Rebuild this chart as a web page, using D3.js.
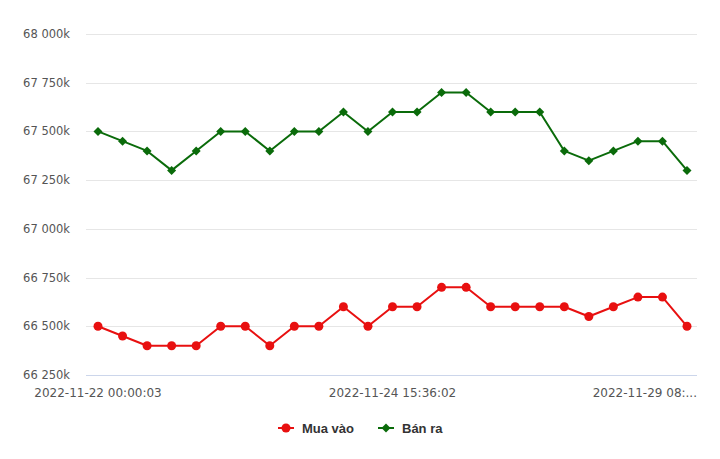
<!DOCTYPE html>
<html><head><meta charset="utf-8">
<script src="https://cdn.jsdelivr.net/npm/d3@7"></script>
<style>body{margin:0;background:#fff}svg{display:block}</style>
</head><body><svg id="c" width="720" height="459"></svg>
<script>
const buyValues = [66500,66450,66400,66400,66400,66500,66500,66400,66500,66500,66600,66500,66600,66600,66700,66700,66600,66600,66600,66600,66550,66600,66650,66650,66500];
const sellValues = [67500,67450,67400,67300,67400,67500,67500,67400,67500,67500,67600,67500,67600,67600,67700,67700,67600,67600,67600,67400,67350,67400,67450,67450,67300];
const tickIndices = [0,12,24];
const tickLabels = ["2022-11-22 00:00:03","2022-11-24 15:36:02","2022-11-29 08:..."];
const yTicks = [66250,66500,66750,67000,67250,67500,67750,68000];
const seriesNames = ["Mua vào","Bán ra"];
const colors = ["#e81010","#0a6b0a"];

const svg = d3.select("#c");
const font = "'DejaVu Sans', Verdana, sans-serif";
const x = d3.scaleLinear().domain([0,24]).range([98,687]);
const y = d3.scaleLinear().domain([66250,68000]).range([375,34]);

// grid
svg.append("g").selectAll("line").data(yTicks.slice(1)).join("line")
  .attr("x1",86).attr("x2",697).attr("y1",d=>Math.round(y(d))+0.5).attr("y2",d=>Math.round(y(d))+0.5)
  .attr("stroke","#e6e6e6").attr("stroke-width",1);
svg.append("line").attr("x1",86).attr("x2",697).attr("y1",Math.round(y(66250))+0.5).attr("y2",Math.round(y(66250))+0.5)
  .attr("stroke","#ccd6eb");

// y labels
const fmt = v => v.toString().replace(/\B(?=(\d{3})+(?!\d))/g," ") + "k";
svg.append("g").selectAll("text").data(yTicks).join("text")
  .attr("x",70).attr("y",d=>y(d)+4).attr("text-anchor","end")
  .attr("font-family",font).attr("font-size","11.5px").attr("fill","#555")
  .text(d=>fmt(d));

// x labels
svg.append("g").selectAll("text").data(tickIndices).join("text")
  .attr("x",(d,i)=> i===2 ? 697 : x(d)).attr("y",397)
  .attr("text-anchor",(d,i)=> i===2 ? "end" : "middle")
  .attr("font-family",font).attr("font-size","12px").attr("fill","#555")
  .text((d,i)=>tickLabels[i]);

const line = d3.line().x((d,i)=>x(i)).y(d=>y(d));
function diamondPath(cx,cy,r){return `M${cx},${cy-r}L${cx+r},${cy}L${cx},${cy+r}L${cx-r},${cy}Z`;}

[buyValues, sellValues].forEach((vals,si)=>{
  svg.append("path").datum(vals).attr("d",line).attr("fill","none")
    .attr("stroke",colors[si]).attr("stroke-width",2).attr("stroke-linejoin","round");
  const g = svg.append("g");
  if(si===0){
    g.selectAll("circle").data(vals).join("circle").attr("cx",(d,i)=>x(i)).attr("cy",d=>y(d)).attr("r",4.5).attr("fill",colors[0]);
  } else {
    g.selectAll("path").data(vals).join("path").attr("d",(d,i)=>diamondPath(x(i),y(d),4.5)).attr("fill",colors[1]);
  }
});

// legend
const leg = [{x:278,name:seriesNames[0],c:colors[0],t:"c"},{x:378,name:seriesNames[1],c:colors[1],t:"d"}];
leg.forEach(l=>{
  svg.append("line").attr("x1",l.x).attr("x2",l.x+16).attr("y1",428).attr("y2",428).attr("stroke",l.c).attr("stroke-width",2);
  if(l.t==="c") svg.append("circle").attr("cx",l.x+8).attr("cy",428).attr("r",4.5).attr("fill",l.c);
  else svg.append("path").attr("d",diamondPath(l.x+8,428,4.5)).attr("fill",l.c);
  svg.append("text").attr("x",l.x+24).attr("y",433).attr("font-family","'Liberation Sans', Arial, sans-serif").attr("font-size","13px")
    .attr("font-weight","bold").attr("fill","#333").text(l.name);
});
</script></body></html>
